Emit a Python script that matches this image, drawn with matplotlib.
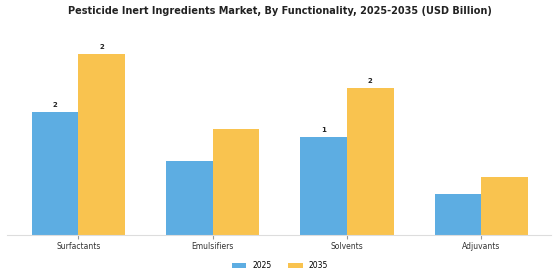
import matplotlib.pyplot as plt
import numpy as np

categories = ["Surfactants", "Emulsifiers", "Solvents", "Adjuvants"]
years = ["2025", "2035"]
values_2025 = [1.54, 0.92, 1.23, 0.51]
values_2035 = [2.26, 1.33, 1.84, 0.72]
labels_2025 = ["2", "", "1", ""]
labels_2035 = ["2", "", "2", ""]

colors = ["#5DADE2", "#F9C34F"]

fig = plt.figure(figsize=(5.6, 2.8), dpi=100)
ax = fig.add_axes([0.0125, 0.161, 0.972, 0.696])

x = np.arange(len(categories))
w = 0.347
b1 = ax.bar(x - w / 2, values_2025, w, color=colors[0], label=years[0])
b2 = ax.bar(x + w / 2, values_2035, w, color=colors[1], label=years[1])

for bars, labs in [(b1, labels_2025), (b2, labels_2035)]:
    for rect, lab in zip(bars, labs):
        if lab:
            ax.text(rect.get_x() + rect.get_width() / 2, rect.get_height() + 0.05, lab,
                    ha="center", va="bottom", fontsize=5, fontweight="bold", color="#222222")

ax.set_xlim(-0.53, 3.52)
ax.set_ylim(0, 2.44)
ax.set_xticks(x)
ax.set_xticklabels(categories, fontsize=5.5, color="#333333")
ax.set_yticks([])
for s in ["top", "right", "left"]:
    ax.spines[s].set_visible(False)
ax.spines["bottom"].set_color("#dddddd")
ax.tick_params(axis="x", length=3, color="#999999", pad=2)

fig.suptitle("Pesticide Inert Ingredients Market, By Functionality, 2025-2035 (USD Billion)",
             fontsize=7, fontweight="bold", y=0.98, color="#222222")

fig.legend(loc="lower center", bbox_to_anchor=(0.5, 0.01), ncol=2, frameon=False,
           fontsize=5.5, handlelength=1.9, handleheight=0.6, columnspacing=2.2,
           handletextpad=0.8)

fig.savefig("out.png", dpi=100)
